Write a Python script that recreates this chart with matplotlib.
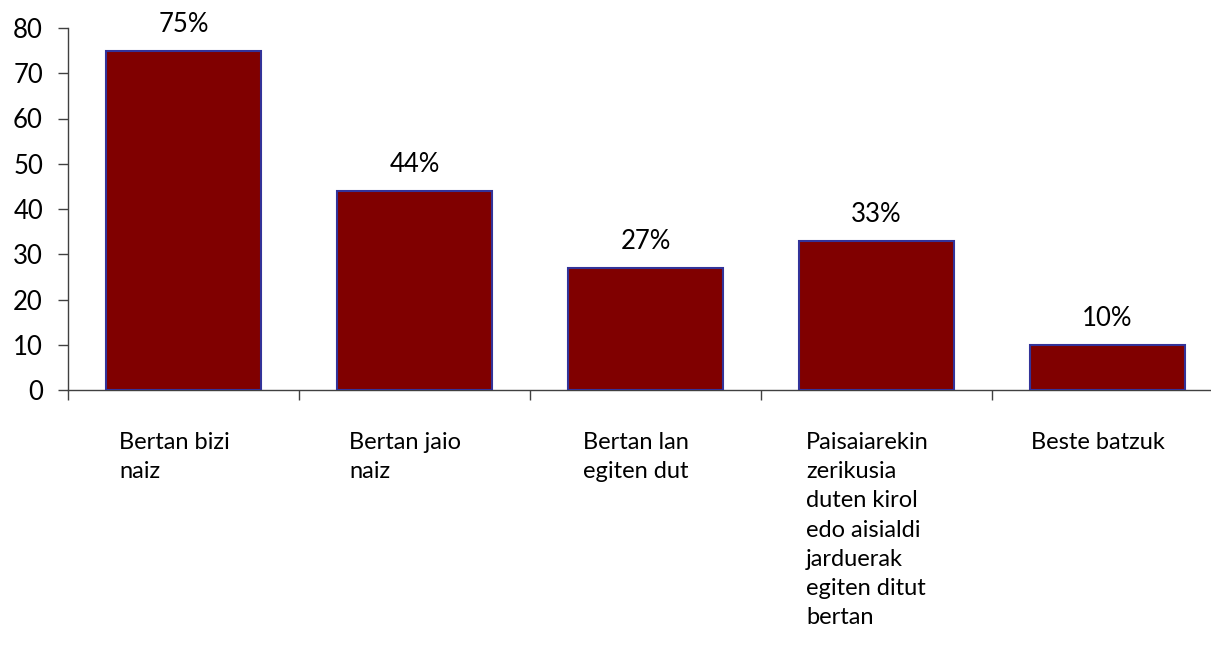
import numpy as np
import matplotlib.pyplot as plt

categories = [
    "Bertan bizi\nnaiz",
    "Bertan jaio\nnaiz",
    "Bertan lan\negiten dut",
    "Paisaiarekin\nzerikusia\nduten kirol\nedo aisialdi\njarduerak\negiten ditut\nbertan",
    "Beste batzuk",
]
values = [75, 44, 27, 33, 10]
yticks = [0, 10, 20, 30, 40, 50, 60, 70, 80]

plt.rcParams['font.family'] = ['Lato', 'DejaVu Sans']

W, H = 1211, 648
fig = plt.figure(figsize=(W / 100, H / 100), dpi=100)
# axis spans 68..1223 px horizontally (runs off the right edge), 0 at y=390, 80 at y=28
ax = fig.add_axes([68 / W, (H - 390) / H, (1223 - 68) / W, (390 - 28) / H])

x = np.arange(len(values))
ax.bar(x, values, width=0.67, color="#800000", edgecolor="#333399", linewidth=1.5, zorder=3)

for xi, v in zip(x, values):
    ax.annotate(f"{v}%", (xi, v), xytext=(0, 10), textcoords="offset points",
                ha="center", va="bottom", fontsize=18.5, color="#000000")

ax.set_xlim(-0.5, len(values) - 0.5)
ax.set_ylim(0, 80)
ax.set_yticks(yticks)
ax.tick_params(axis="y", labelsize=18.5, length=7, width=1, color="#404040", pad=11)

# category boundaries as tick marks, names as wrapped text below
ax.set_xticks(np.arange(len(values) + 1) - 0.5)
ax.set_xticklabels([])
ax.tick_params(axis="x", length=7, width=1, color="#404040")

for xi, name in zip(x, categories):
    ax.text(xi - 0.04, -9.3, name, ha="center", va="top", multialignment="left",
            fontsize=17, linespacing=1.48, transform=ax.transData)

for s in ["top", "right"]:
    ax.spines[s].set_visible(False)
for s in ["left", "bottom"]:
    ax.spines[s].set_color("#404040")
    ax.spines[s].set_linewidth(1)

fig.savefig("out.png", dpi=100)
